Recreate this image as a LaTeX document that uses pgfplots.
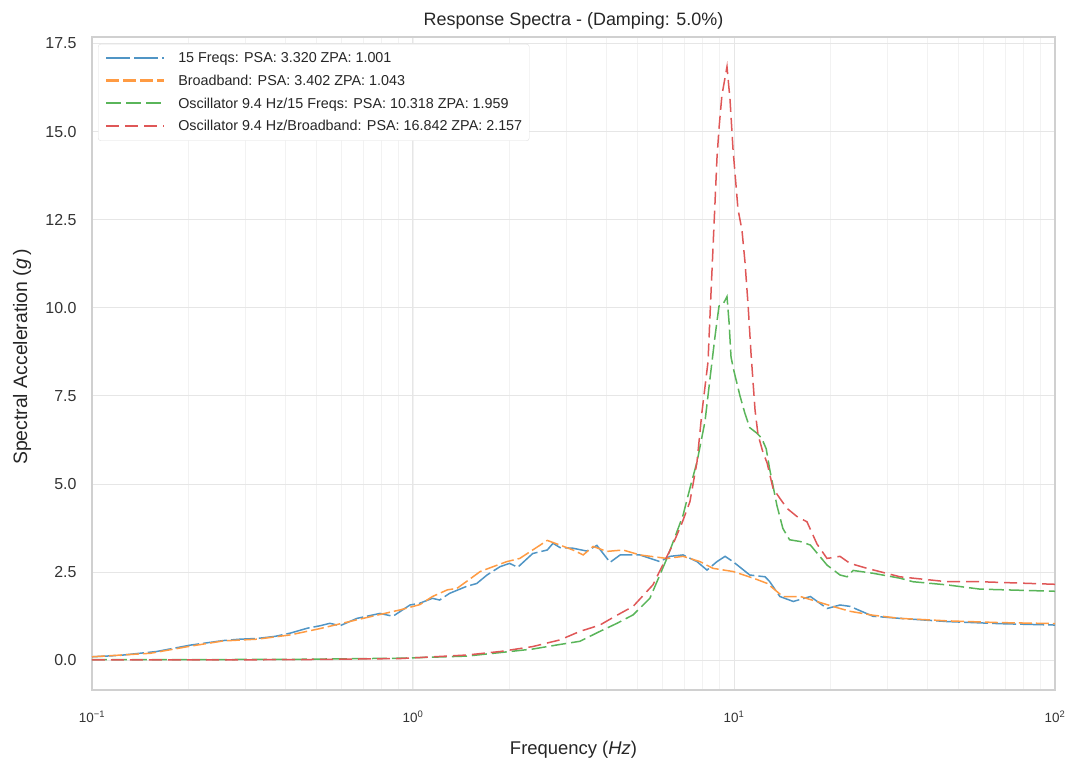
\documentclass[border=0pt]{standalone}
\usepackage{fontspec}
\setmainfont{Liberation Sans}
\usepackage{pgfplots}
\pgfplotsset{compat=1.18}

% tab10 hues, lightened the way a 0.75 alpha reads on white
\definecolor{tabblue}{HTML}{1F77B4}
\definecolor{taborange}{HTML}{FF7F0E}
\definecolor{tabgreen}{HTML}{2CA02C}
\definecolor{tabred}{HTML}{D62728}
\colorlet{lineblue}{tabblue!78!white}
\colorlet{lineorange}{taborange!78!white}
\colorlet{linegreen}{tabgreen!78!white}
\colorlet{linered}{tabred!78!white}
\definecolor{gridmaj}{HTML}{E6E6E6}
\definecolor{gridmin}{HTML}{F2F2F2}
\definecolor{spine}{HTML}{D0D0D0}

\begin{document}
\begin{tikzpicture}
\begin{axis}[
  scale only axis,
  width=963bp, height=653bp,
  xmode=log,
  xmin=0.1, xmax=100,
  ymin=-0.842, ymax=17.684,
  xtick={0.1,1,10,100},
  xticklabels={10\textsuperscript{−1},10\textsuperscript{0},10\textsuperscript{1},10\textsuperscript{2}},
  ytick={0,2.5,5,7.5,10,12.5,15,17.5},
  /pgf/number format/fixed,
  /pgf/number format/fixed zerofill,
  /pgf/number format/precision=1,
  /pgf/number format/assume math mode=true,
  tick label style={font=\fontsize{16}{18}\selectfont, color=black!80},
  xticklabel style={font=\fontsize{13.5}{15}\selectfont, anchor=center,
    yshift=-27bp},
  yticklabel style={xshift=-12bp},
  major tick length=0pt, minor tick length=0pt,
  xmajorgrids, ymajorgrids, xminorgrids,
  major grid style={color=gridmaj, line width=1bp},
  minor grid style={color=gridmin, line width=0.8bp},
  axis line style={color=spine, line width=1.2bp},
  title={Response Spectra - (Damping: 5.0\%)},
  title style={font=\fontsize{18}{20}\selectfont, color=black!85,
    at={(axis description cs:0.5,1)}, anchor=base, yshift=6bp},
  xlabel={Frequency (\textit{Hz})},
  ylabel={Spectral Acceleration (\textit{g}\,)},
  label style={color=black!85},
  xlabel style={font=\fontsize{18.5}{20}\selectfont,
    at={(axis description cs:0.5,-0.0919)}, anchor=center},
  ylabel style={font=\fontsize{19.5}{21}\selectfont,
    at={(axis description cs:-0.0727,0.51)}, anchor=center},
  legend cell align=left,
  legend style={at={(axis description cs:0.0063,0.9893)}, anchor=north west,
    font=\fontsize{14.4}{16}\selectfont, text=black!85,
    draw=black!12, fill=white,
    rounded corners=2.5bp, inner xsep=5bp, inner ysep=6.5bp,
    row sep=6.8bp},
  legend image code/.code={
    \draw[#1, line width=2.2bp] (3bp,0.4bp) -- (61bp,0.4bp);
    \path[draw=none] (0bp,0bp) -- (73bp,0bp);
  },
  every axis plot/.append style={line width=1.5bp},
]

% 15 Freqs
\addplot[draw=lineblue, dash pattern=on 24bp off 4bp] coordinates {
(0.1,0.10) (0.122,0.14) (0.159,0.25) (0.202,0.43) (0.256,0.56) (0.289,0.60)
(0.327,0.62) (0.372,0.68) (0.414,0.77) (0.468,0.91) (0.513,0.98) (0.551,1.05)
(0.592,0.98) (0.669,1.19) (0.789,1.33) (0.866,1.25) (0.979,1.57) (1.05,1.62)
(1.15,1.76) (1.21,1.71) (1.30,1.90) (1.47,2.10) (1.58,2.18) (1.70,2.42)
(1.87,2.66) (2.00,2.75) (2.12,2.64) (2.36,3.03) (2.62,3.13) (2.73,3.32)
(2.87,3.20) (3.15,3.18) (3.48,3.10) (3.74,3.26) (4.11,2.78) (4.42,2.99)
(5.09,2.99) (5.88,2.80) (6.32,2.95) (6.94,2.99) (7.67,2.80) (8.24,2.56)
(8.85,2.80) (9.38,2.95) (9.93,2.80) (11.2,2.42) (12.5,2.37) (12.9,2.24)
(13.9,1.81) (15.3,1.67) (17.3,1.81) (19.5,1.47) (21.4,1.57) (23.0,1.53)
(27.1,1.25) (32.9,1.19) (46.1,1.10) (67.4,1.04) (100,1.001)
};
\addlegendentry{15 Freqs: PSA: 3.320 ZPA: 1.001}

% Broadband
\addplot[draw=lineorange, dash pattern=on 13bp off 4bp] coordinates {
(0.1,0.10) (0.152,0.20) (0.202,0.40) (0.256,0.55) (0.327,0.60) (0.414,0.72)
(0.513,0.90) (0.669,1.15) (0.789,1.30) (0.911,1.43) (1.05,1.58) (1.15,1.81)
(1.28,2.00) (1.37,2.04) (1.47,2.24) (1.62,2.52) (1.78,2.66) (1.96,2.80)
(2.15,2.89) (2.36,3.13) (2.62,3.402) (2.87,3.27) (3.15,3.13) (3.39,2.99)
(3.64,3.23) (4.02,3.09) (4.51,3.13) (5.09,2.99) (6.18,2.89) (6.94,2.95)
(7.84,2.80) (8.60,2.61) (9.93,2.52) (11.5,2.33) (12.7,2.18) (14.2,1.81)
(16.1,1.81) (18.1,1.67) (20.3,1.53) (23.0,1.39) (27.1,1.28) (32.9,1.19)
(46.1,1.12) (67.4,1.07) (100,1.043)
};
\addlegendentry{Broadband: PSA: 3.402 ZPA: 1.043}

% Oscillator 9.4 Hz driven by 15 Freqs
\addplot[draw=linegreen, dash pattern=on 15bp off 5bp] coordinates {
(0.1,0.02) (0.217,0.02) (0.445,0.03) (0.911,0.06) (1.47,0.12) (1.87,0.22)
(2.36,0.32) (2.87,0.45) (3.31,0.54) (3.82,0.82) (4.32,1.05) (4.85,1.29)
(5.47,1.76) (6.18,2.89) (6.55,3.50) (6.94,4.12) (7.29,4.88) (7.67,5.63)
(8.12,6.77) (8.42,8.00) (8.73,9.20) (8.98,10.05) (9.24,10.10) (9.51,10.318)
(9.65,9.60) (9.79,8.60) (10.0,8.20) (10.44,7.50) (10.82,7.00) (11.2,6.60)
(11.8,6.44) (12.2,6.30) (12.6,6.00) (12.9,5.45) (13.6,4.40) (14.2,3.74)
(14.9,3.42) (16.1,3.37) (17.3,3.27) (19.5,2.70) (21.4,2.42) (22.5,2.37)
(23.5,2.55) (27.1,2.47) (32.9,2.33) (36.1,2.23) (46.1,2.14) (58.4,2.02)
(100,1.959)
};
\addlegendentry{Oscillator 9.4 Hz/15 Freqs: PSA: 10.318 ZPA: 1.959}

% Oscillator 9.4 Hz driven by broadband
\addplot[draw=linered, dash pattern=on 13bp off 6bp] coordinates {
(0.1,0.01) (0.217,0.01) (0.445,0.02) (0.911,0.05) (1.47,0.15) (1.87,0.25)
(2.36,0.39) (2.87,0.58) (3.31,0.82) (3.82,1.00) (4.32,1.28) (4.85,1.53)
(5.59,2.14) (6.46,3.30) (6.89,3.90) (7.29,4.50) (7.67,5.63) (7.95,7.05)
(8.30,8.47) (8.42,9.79) (8.60,11.68) (8.85,14.24) (8.98,15.09) (9.17,16.03)
(9.51,16.842) (9.72,15.90) (9.93,14.50) (10.29,12.80) (10.59,12.20)
(10.82,11.30) (11.06,10.10) (11.30,8.70) (11.63,7.10) (11.88,6.40)
(12.31,5.90) (12.68,5.60) (13.23,4.88) (13.91,4.59) (14.63,4.31)
(15.71,4.08) (16.88,3.93) (18.14,3.30) (19.49,2.89) (21.39,2.95)
(22.98,2.75) (25.97,2.61) (32.89,2.37) (46.09,2.23) (58.4,2.23) (100,2.157)
};
\addlegendentry{Oscillator 9.4 Hz/Broadband: PSA: 16.842 ZPA: 2.157}

\end{axis}
\path (current axis.south west) ++(-92bp,-73bp) coordinate (bbA);
\path (current axis.north east) ++(18bp,37bp) coordinate (bbB);
\useasboundingbox (bbA) rectangle (bbB);
\end{tikzpicture}
\end{document}
